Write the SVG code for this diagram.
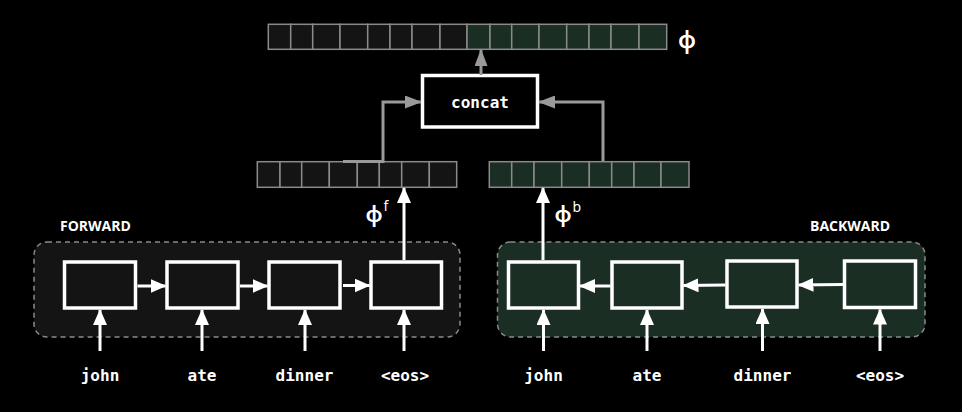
<svg xmlns="http://www.w3.org/2000/svg" width="962" height="412" viewBox="0 0 962 412">
<style>
.cellF{fill:#141414;stroke:#8a8a8a;stroke-width:1.5}
.cellB{fill:#1a2e24;stroke:#8a8a8a;stroke-width:1.5}
.box{stroke:#ffffff;stroke-width:3.5}
.wl{stroke:#ffffff;stroke-width:3;fill:none}
.gl{stroke:#9a9a9a;stroke-width:3;fill:none}
.word{font-family:"DejaVu Sans Mono",monospace;font-weight:bold;font-size:16px;fill:#ffffff;text-anchor:middle}
.lbl{font-family:"Open Sans","DejaVu Sans",sans-serif;font-weight:bold;font-size:14px;fill:#ffffff}
.phi{font-family:"Noto Sans","Open Sans",sans-serif;font-weight:600;fill:#ffffff}
.sup{font-family:"Noto Sans","Open Sans",sans-serif;font-size:14px;fill:#ffffff}
</style>
<defs>
<marker id="aw" markerUnits="userSpaceOnUse" markerWidth="16" markerHeight="14" refX="15" refY="7" orient="auto">
<path d="M0,0 L16,7 L0,14 z" fill="#ffffff"/>
</marker>
<marker id="ag" markerUnits="userSpaceOnUse" markerWidth="17" markerHeight="13" refX="16" refY="6.5" orient="auto">
<path d="M0,0 L17,6.5 L0,13 z" fill="#9a9a9a"/>
</marker>
</defs>
<rect x="0" y="0" width="962" height="412" fill="#000000"/>

<g id="containers">
<rect x="34" y="242" width="426" height="95" rx="13" fill="#141414" stroke="#8a8a8a" stroke-width="1.5" stroke-dasharray="5,4"/>
<rect x="497.5" y="242" width="427.5" height="95" rx="13" fill="#1a2e24" stroke="#8a8a8a" stroke-width="1.5" stroke-dasharray="5,4"/>
<text class="lbl" x="60" y="231">FORWARD</text>
<text class="lbl" x="810" y="231">BACKWARD</text>
</g>

<g id="phi-vector">
<rect class="cellF" x="268.3" y="24.3" width="22.4" height="25"/>
<rect class="cellF" x="290.7" y="24.3" width="22" height="25"/>
<rect class="cellF" x="312.7" y="24.3" width="27.3" height="25"/>
<rect class="cellF" x="340" y="24.3" width="27.7" height="25"/>
<rect class="cellF" x="367.7" y="24.3" width="22.3" height="25"/>
<rect class="cellF" x="390" y="24.3" width="22" height="25"/>
<rect class="cellF" x="412" y="24.3" width="28" height="25"/>
<rect class="cellF" x="440" y="24.3" width="27" height="25"/>
<rect class="cellB" x="467" y="24.3" width="23" height="25"/>
<rect class="cellB" x="490" y="24.3" width="21.7" height="25"/>
<rect class="cellB" x="511.7" y="24.3" width="27.3" height="25"/>
<rect class="cellB" x="539" y="24.3" width="27.7" height="25"/>
<rect class="cellB" x="566.7" y="24.3" width="22.3" height="25"/>
<rect class="cellB" x="589" y="24.3" width="22" height="25"/>
<rect class="cellB" x="611" y="24.3" width="28" height="25"/>
<rect class="cellB" x="639" y="24.3" width="27.7" height="25"/>
<text class="phi" x="687" y="48" font-size="23" text-anchor="middle">φ</text>
</g>

<g id="concat">
<rect class="box" x="422.5" y="75.5" width="115" height="51.5" fill="#000000"/>
<text class="word" x="480" y="107.5">concat</text>
</g>

<g id="phi-f">
<rect class="cellF" x="257.3" y="161.7" width="22.7" height="25.6"/>
<rect class="cellF" x="280" y="161.7" width="21.7" height="25.6"/>
<rect class="cellF" x="301.7" y="161.7" width="27.6" height="25.6"/>
<rect class="cellF" x="329.3" y="161.7" width="28" height="25.6"/>
<rect class="cellF" x="357.3" y="161.7" width="22" height="25.6"/>
<rect class="cellF" x="379.3" y="161.7" width="22.4" height="25.6"/>
<rect class="cellF" x="401.7" y="161.7" width="27.6" height="25.6"/>
<rect class="cellF" x="429.3" y="161.7" width="27.4" height="25.6"/>
<text class="phi" x="374" y="222" font-size="22" text-anchor="middle">φ</text>
<text class="sup" x="383.5" y="211">f</text>
</g>

<g id="phi-b">
<rect class="cellB" x="489.3" y="161.7" width="22.4" height="25.6"/>
<rect class="cellB" x="511.7" y="161.7" width="22.3" height="25.6"/>
<rect class="cellB" x="534" y="161.7" width="27.7" height="25.6"/>
<rect class="cellB" x="561.7" y="161.7" width="27.6" height="25.6"/>
<rect class="cellB" x="589.3" y="161.7" width="22.4" height="25.6"/>
<rect class="cellB" x="611.7" y="161.7" width="22.3" height="25.6"/>
<rect class="cellB" x="634" y="161.7" width="27" height="25.6"/>
<rect class="cellB" x="661" y="161.7" width="28" height="25.6"/>
<text class="phi" x="563" y="222" font-size="22" text-anchor="middle">φ</text>
<text class="sup" x="572.5" y="212">b</text>
</g>

<g id="fwd1"><rect class="box" x="64.5" y="262" width="71" height="46" fill="#141414"/></g>
<g id="fwd2"><rect class="box" x="167" y="262" width="71" height="46" fill="#141414"/></g>
<g id="fwd3"><rect class="box" x="269" y="262" width="71" height="46" fill="#141414"/></g>
<g id="fwd4"><rect class="box" x="371" y="262" width="70.5" height="46" fill="#141414"/></g>

<g id="bwd1"><rect class="box" x="508.5" y="262" width="70" height="46" fill="#1a2e24"/></g>
<g id="bwd2"><rect class="box" x="612" y="262" width="70" height="46" fill="#1a2e24"/></g>
<g id="bwd3"><rect class="box" x="727" y="261" width="70" height="46" fill="#1a2e24"/></g>
<g id="bwd4"><rect class="box" x="844.5" y="261" width="71" height="46.5" fill="#1a2e24"/></g>

<g id="words">
<text class="word" x="100" y="381">john</text>
<text class="word" x="202" y="381">ate</text>
<text class="word" x="304.5" y="381">dinner</text>
<text class="word" x="405" y="381">&lt;eos&gt;</text>
<text class="word" x="543.5" y="381">john</text>
<text class="word" x="647" y="381">ate</text>
<text class="word" x="762.5" y="381">dinner</text>
<text class="word" x="880" y="381">&lt;eos&gt;</text>
</g>

<g id="connectors">
<path class="gl" d="M481,75 L481,50" marker-end="url(#ag)"/>
<path class="gl" d="M343,161.5 L383,161.5 L383,102 L421,102" marker-end="url(#ag)"/>
<path class="gl" d="M603,161 L603,102 L539,102" marker-end="url(#ag)"/>
<path class="wl" d="M404,260 L404,188" marker-end="url(#aw)"/>
<path class="wl" d="M543,260 L543,188" marker-end="url(#aw)"/>
<path class="wl" d="M137.5,286 L165.5,286" marker-end="url(#aw)"/>
<path class="wl" d="M240,286 L267.5,286" marker-end="url(#aw)"/>
<path class="wl" d="M343,285.5 L369.5,285.5" marker-end="url(#aw)"/>
<path class="wl" d="M610.5,286 L580,286" marker-end="url(#aw)"/>
<path class="wl" d="M725.5,285 L683.5,285.5" marker-end="url(#aw)"/>
<path class="wl" d="M843,284.5 L798.5,285" marker-end="url(#aw)"/>
<path class="wl" d="M100,351 L100,310" marker-end="url(#aw)"/>
<path class="wl" d="M202,351 L202,310" marker-end="url(#aw)"/>
<path class="wl" d="M305,351 L305,310" marker-end="url(#aw)"/>
<path class="wl" d="M404,351 L404,310" marker-end="url(#aw)"/>
<path class="wl" d="M543.5,351 L543.5,310" marker-end="url(#aw)"/>
<path class="wl" d="M647,351 L647,310" marker-end="url(#aw)"/>
<path class="wl" d="M762.5,351 L762.5,309" marker-end="url(#aw)"/>
<path class="wl" d="M880,351 L880,309.5" marker-end="url(#aw)"/>
</g>
</svg>
